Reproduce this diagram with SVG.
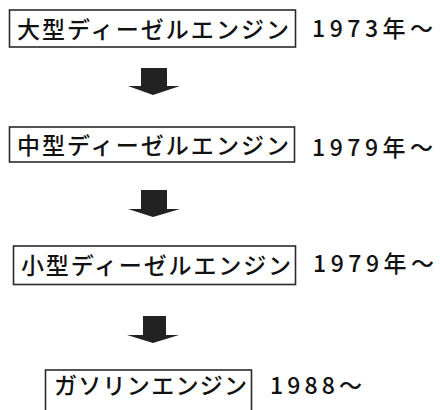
<svg xmlns="http://www.w3.org/2000/svg" width="440" height="410" viewBox="0 0 440 410">
<style>
.box{fill:#fff;stroke:#2a2a2a;stroke-width:1.6}
.lbl{font-family:"Noto Sans CJK JP","Noto Sans",sans-serif;font-size:23px;font-weight:500;fill:#111}
.yr{font-family:"Noto Sans CJK JP","Noto Sans",sans-serif;font-size:23px;font-weight:500;fill:#111}
.arr{fill:#222}
</style>
<rect width="440" height="410" fill="#fff"/>
<g id="node1">
<rect class="box" x="9.5" y="10" width="286" height="37"/>
<text class="lbl" x="17" y="37.5" textLength="272" lengthAdjust="spacing">大型ディーゼルエンジン</text>
<text class="yr" x="312" y="37" textLength="121" lengthAdjust="spacing">1973年～</text>
</g>
<g id="node2">
<rect class="box" x="9.5" y="127" width="285" height="35"/>
<text class="lbl" x="17" y="153.5" textLength="272" lengthAdjust="spacing">中型ディーゼルエンジン</text>
<text class="yr" x="312" y="156" textLength="121" lengthAdjust="spacing">1979年～</text>
</g>
<g id="node3">
<rect class="box" x="13.5" y="246" width="282" height="38.5"/>
<text class="lbl" x="21" y="273.5" textLength="270" lengthAdjust="spacing">小型ディーゼルエンジン</text>
<text class="yr" x="313" y="272" textLength="121" lengthAdjust="spacing">1979年～</text>
</g>
<g id="node4">
<rect class="box" x="45.5" y="370" width="206" height="45"/>
<text class="lbl" x="54" y="393.5" textLength="193" lengthAdjust="spacing">ガソリンエンジン</text>
<text class="yr" x="270" y="394" textLength="92" lengthAdjust="spacing">1988～</text>
</g>
<g id="connectors">
<polygon class="arr" points="141,68 167,68 167,86 180,86 153,95 128,86 141,86"/>
<polygon class="arr" points="141,190 167,190 167,209 180,209 153,217 128,209 141,209"/>
<polygon class="arr" points="143,316 166,316 166,335 179,335 153,343 127,335 143,335"/>
</g>
</svg>
